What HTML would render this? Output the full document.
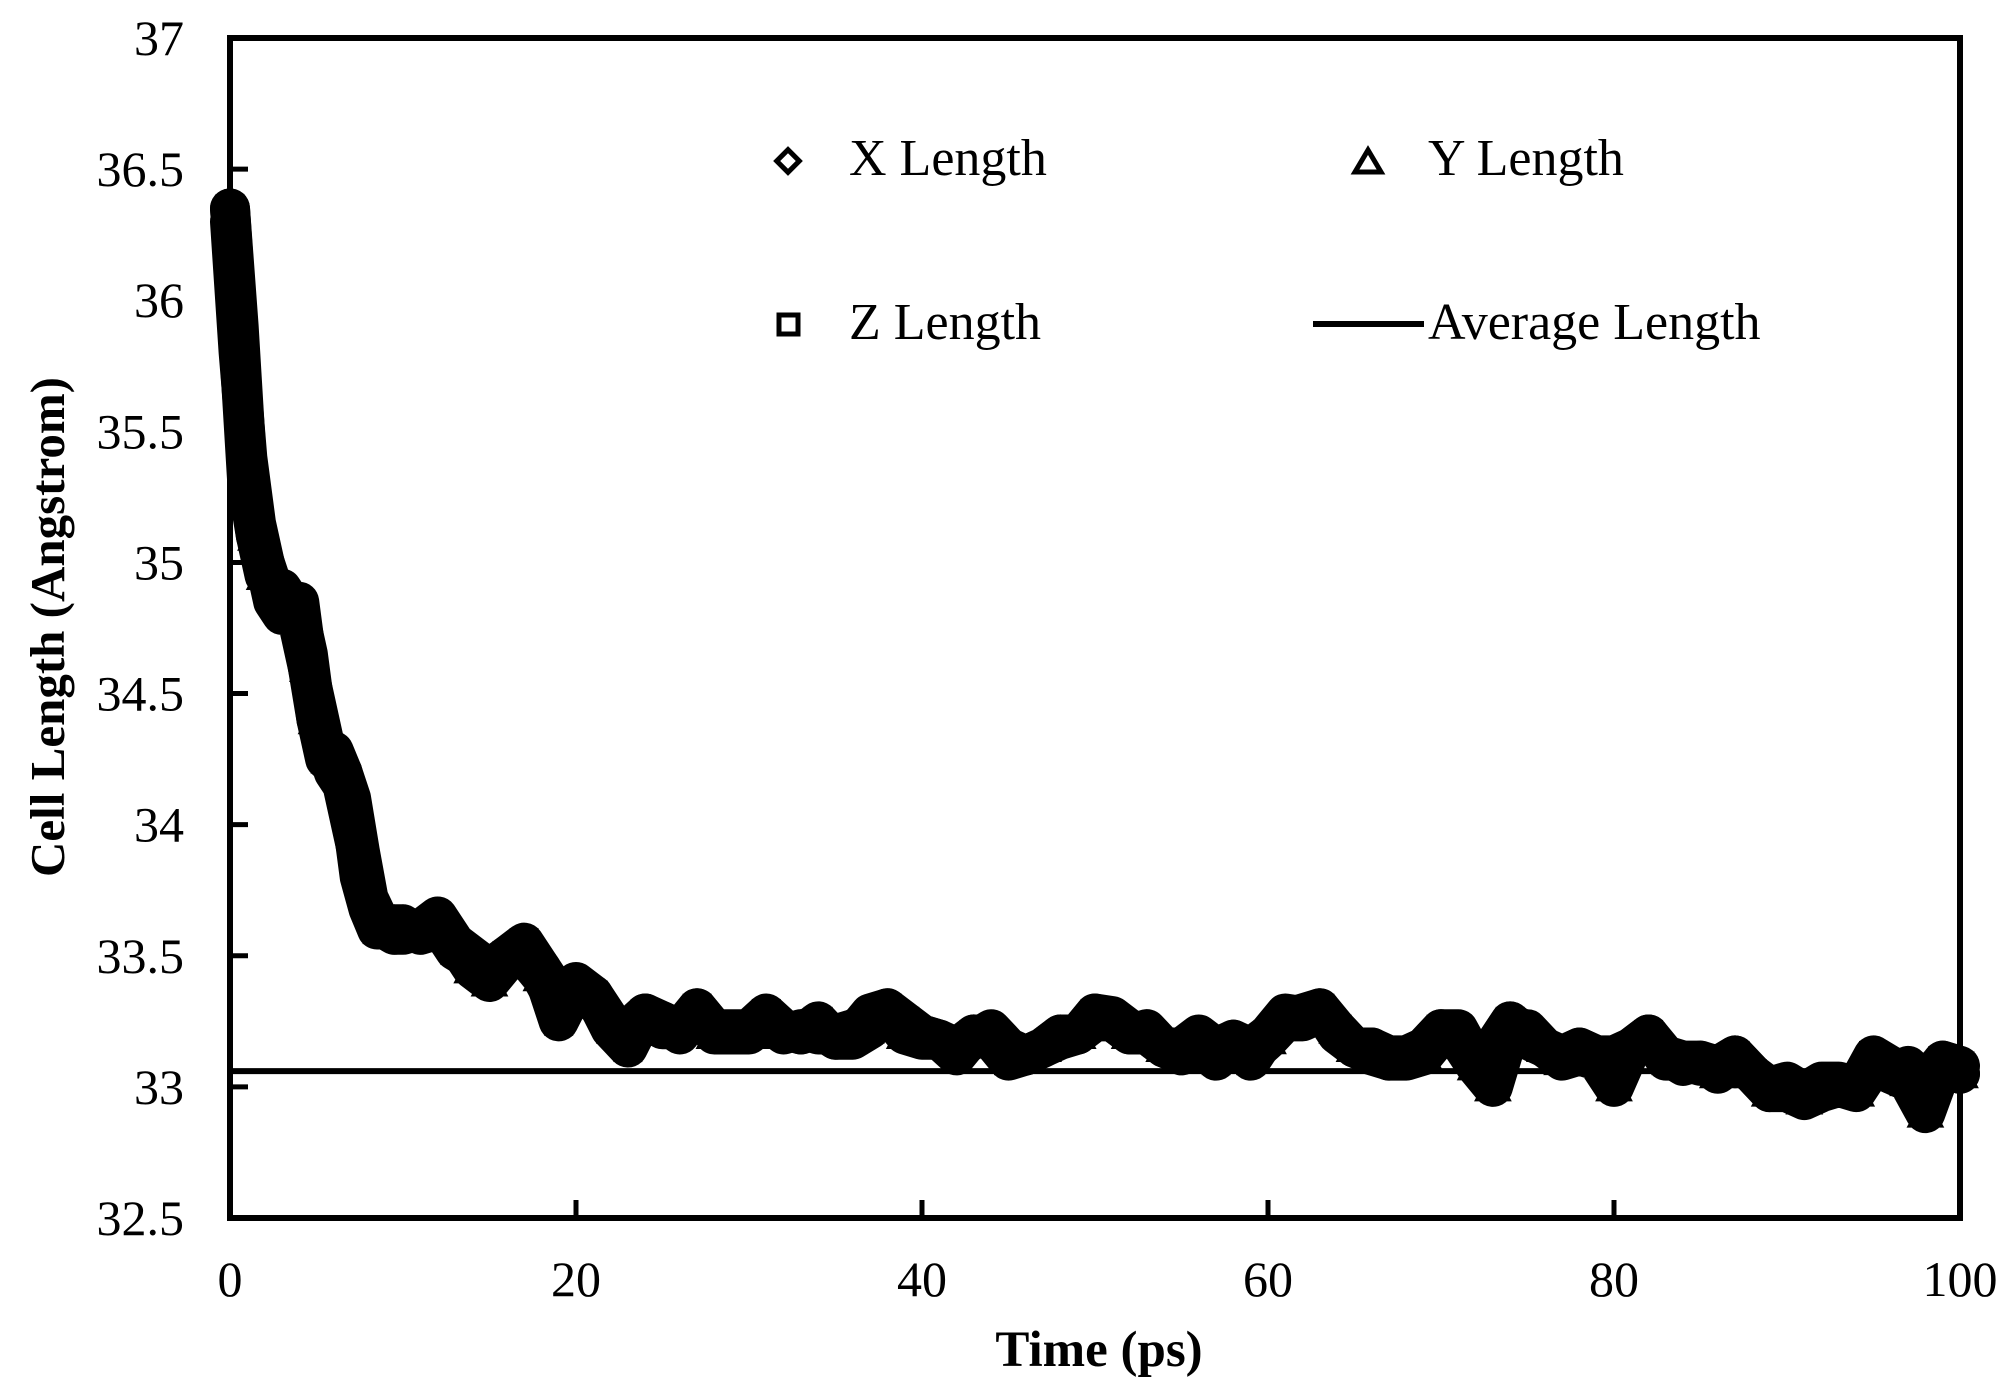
<!DOCTYPE html>
<html><head><meta charset="utf-8"><style>
body{margin:0;background:#fff}
text{font-family:"Liberation Serif",serif;fill:#000}
</style></head><body>
<svg id="chart" width="2008" height="1390" viewBox="0 0 2008 1390" xmlns="http://www.w3.org/2000/svg">
<g id="marks"></g>
<rect x="230" y="38" width="1730" height="1180" fill="none" stroke="#000" stroke-width="6"/>
<g id="axes"></g>
<text x="1099" y="1366" font-size="51" font-weight="bold" text-anchor="middle">Time (ps)</text>
<text transform="translate(64,627) rotate(-90)" font-size="49" font-weight="bold" text-anchor="middle">Cell Length (Angstrom)</text>
<g>
<rect x="780" y="153" width="16" height="16" transform="rotate(45 788 161)" fill="none" stroke="#000" stroke-width="5"/>
<text x="849" y="175" font-size="52">X Length</text>
<polygon points="1368,150 1381,172 1355,172" fill="none" stroke="#000" stroke-width="5"/>
<text x="1428" y="175" font-size="52">Y Length</text>
<rect x="779" y="315" width="19" height="19" fill="none" stroke="#000" stroke-width="5"/>
<text x="849" y="339" font-size="52">Z Length</text>
<line x1="1313" y1="324" x2="1424" y2="324" stroke="#000" stroke-width="6"/>
<text x="1428" y="339" font-size="52">Average Length</text>
</g>
</svg>
<script>
const times=[0,0.5,1,1.5,2,2.5,3,3.5,4,4.5,5,5.5,6,6.5,7,7.5,8,8.5,9,9.5,10,
11,12,13,14,15,16,17,18,19,20,21,22,23,24,25,26,27,28,29,30,31,32,33,34,35,36,37,38,39,40,
41,42,43,44,45,46,47,48,49,50,51,52,53,54,55,56,57,58,59,60,61,62,63,64,65,66,67,68,69,70,
71,72,73,74,75,76,77,78,79,80,81,82,83,84,85,86,87,88,89,90,91,92,93,94,95,96,97,98,99,100];
const xLength=[36.3,35.8,35.4,35.15,35.0,34.85,34.8,34.85,34.75,34.6,34.45,34.3,34.2,34.15,34.0,33.85,33.7,33.62,33.6,33.58,33.6,
33.6,33.65,33.55,33.5,33.45,33.5,33.52,33.45,33.35,33.4,33.35,33.25,33.22,33.28,33.25,33.2,33.3,33.22,33.2,33.22,
33.25,33.22,33.2,33.22,33.18,33.2,33.28,33.3,33.22,33.2,33.18,33.15,33.18,33.22,33.15,33.12,33.15,33.18,33.2,33.28,
33.27,33.22,33.2,33.15,33.15,33.2,33.15,33.18,33.15,33.2,33.28,33.27,33.3,33.2,33.15,33.15,33.12,33.12,33.15,33.22,
33.22,33.1,33.15,33.25,33.2,33.15,33.12,33.15,33.12,33.12,33.15,33.2,33.12,33.1,33.1,33.08,33.12,33.05,33.0,33.02,
32.98,33.02,33.02,33.0,33.1,33.05,33.08,33.02,33.1,33.05];
const yLength=[36.35,35.9,35.35,35.1,34.95,34.9,34.9,34.85,34.85,34.6,34.4,34.3,34.28,34.2,34.1,33.9,33.72,33.65,33.6,33.62,33.62,
33.58,33.6,33.55,33.45,33.4,33.48,33.5,33.42,33.3,33.35,33.33,33.25,33.18,33.25,33.25,33.22,33.28,33.2,33.2,33.2,
33.25,33.2,33.22,33.2,33.2,33.22,33.25,33.28,33.2,33.18,33.18,33.15,33.2,33.2,33.12,33.12,33.15,33.2,33.2,33.25,
33.25,33.2,33.22,33.15,33.12,33.18,33.12,33.15,33.12,33.18,33.25,33.25,33.28,33.22,33.15,33.12,33.1,33.1,33.12,33.2,
33.18,33.08,33.0,33.22,33.22,33.15,33.1,33.12,33.1,33.0,33.15,33.18,33.12,33.08,33.1,33.05,33.1,33.05,32.98,32.98,
32.95,32.98,33.0,32.98,33.08,33.05,33.02,32.9,33.08,33.05];
const zLength=[36.35,35.85,35.3,35.1,35.0,34.9,34.85,34.85,34.8,34.65,34.4,34.25,34.22,34.2,34.05,33.8,33.68,33.6,33.6,33.58,33.58,
33.6,33.62,33.52,33.48,33.45,33.5,33.55,33.45,33.25,33.38,33.35,33.22,33.15,33.28,33.22,33.22,33.3,33.22,33.22,33.22,
33.28,33.22,33.2,33.25,33.18,33.18,33.22,33.3,33.25,33.2,33.18,33.12,33.2,33.18,33.1,33.12,33.15,33.2,33.2,33.28,
33.25,33.2,33.2,33.15,33.15,33.18,33.1,33.18,33.1,33.2,33.25,33.28,33.3,33.22,33.15,33.15,33.1,33.12,33.15,33.22,
33.2,33.1,33.15,33.25,33.18,33.15,33.12,33.15,33.12,33.05,33.15,33.2,33.1,33.1,33.08,33.08,33.12,33.05,32.98,33.0,
32.98,33.0,33.0,33.0,33.12,33.08,33.05,33.0,33.1,33.08];
const averageLength=33.06;
const xTicks=[0,20,40,60,80,100];
const yTicks=[32.5,33,33.5,34,34.5,35,35.5,36,36.5,37];
const yTickLabels=["32.5","33","33.5","34","34.5","35","35.5","36","36.5","37"];

const L=230,R=1960,T=38,B=1218;
const sx=v=>L+(v-0)/(100-0)*(R-L);
const sy=v=>B-(v-32.5)/(37-32.5)*(B-T);
const NS="http://www.w3.org/2000/svg";
const marks=document.getElementById('marks'),axes=document.getElementById('axes');
function mk(tag,attrs,parent){const e=document.createElementNS(NS,tag);for(const k in attrs)e.setAttribute(k,attrs[k]);parent.appendChild(e);return e;}

xTicks.forEach(t=>{
  const l=mk('line',{x1:sx(t),x2:sx(t),y1:B,y2:B-18,stroke:'#000','stroke-width':5},axes);
  
  
  const tx=mk('text',{x:sx(t),y:1296,'font-size':50,'text-anchor':'middle'},axes);
  tx.textContent=String(t);
  
  
});
yTicks.forEach((t,i)=>{
  const l=mk('line',{x1:L,x2:L+18,y1:sy(t),y2:sy(t),stroke:'#000','stroke-width':5},axes);
  
  
  const tx=mk('text',{x:184,y:sy(t)+17,'font-size':50,'text-anchor':'end'},axes);
  tx.textContent=yTickLabels[i];
  
  
});

const av=mk('line',{x1:L,x2:R,y1:sy(averageLength),y2:sy(averageLength),stroke:'#000','stroke-width':6},marks);



function band(arr,name){
  const pl=mk('polyline',{points:times.map((t,i)=>sx(t)+','+sy(arr[i])).join(' '),fill:'none',stroke:'#000','stroke-width':40,'stroke-linejoin':'round','stroke-linecap':'round'},marks);
  
  
}
band(xLength,'x-length-band');
band(yLength,'y-length-band');
band(zLength,'z-length-band');

const gz=mk('g',{fill:'none',stroke:'#000','stroke-width':7},marks);


const gy=mk('g',{fill:'none',stroke:'#000','stroke-width':7},marks);


const gx=mk('g',{fill:'none',stroke:'#000','stroke-width':7},marks);



times.forEach((t,i)=>{
  const x=sx(t);
  let y=sy(zLength[i]);
  const s=mk('rect',{x:x-11,y:y-11,width:22,height:22},gz);
  
  
  y=sy(yLength[i]);
  const p=mk('polygon',{points:`${x},${y-13} ${x+13},${y+11} ${x-13},${y+11}`},gy);
  
  
  y=sy(xLength[i]);
  const d=mk('polygon',{points:`${x},${y-13} ${x+13},${y} ${x},${y+13} ${x-13},${y}`},gx);
  
  
});
</script>
</body></html>
